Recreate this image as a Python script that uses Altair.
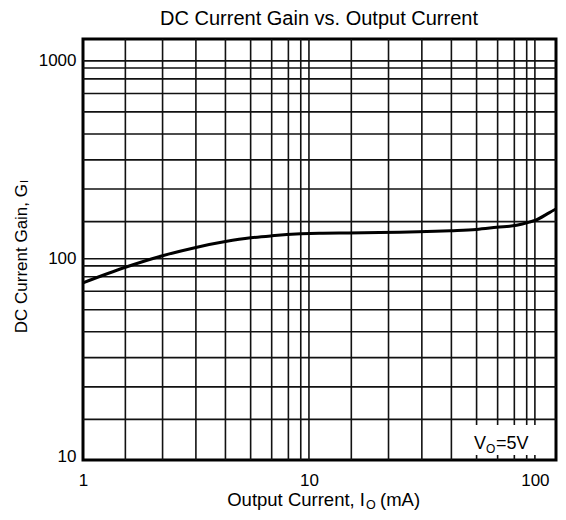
import altair as alt
import pandas as pd

# ---- data ----
output_current = [1, 1.54, 2.25, 3.16, 4.27, 5.52, 6.84, 9.2, 11.1, 15, 20.5, 42.4, 55, 67.7, 83, 94.5, 100, 116, 134]
current_gain = [75.5, 90.5, 103.5, 114, 122, 127.5, 130.5, 133.5, 134.5, 135, 135.5, 138.5, 140.5, 144, 147.5, 153, 156, 171, 188]

x_grid = [1.54, 2.25, 3.16, 4.27, 5.52, 6.84, 8.11, 9.2, 10,
          15.4, 22.5, 31.6, 42.7, 55.2, 68.4, 81.1, 92, 100]
y_grid = [15.4, 22.5, 31.6, 42.7, 55.2, 68.4, 81.1, 92, 100,
          154, 225, 316, 427, 552, 684, 811, 920, 1000]
x_ticks = [1, 10, 100]
y_ticks = [10, 100, 1000]
x_domain = [1, 124]
y_domain = [9.6, 1290]

FONT = "Liberation Sans"
W, H = 473, 421

curve = pd.DataFrame({"io": output_current, "gain": current_gain})
xs = alt.Scale(type="log", domain=x_domain, nice=False)
ys = alt.Scale(type="log", domain=y_domain, nice=False)

xaxis = alt.Axis(values=x_ticks, format="d", ticks=False, grid=False, domain=False,
                 labelPadding=12, title="", labelFlush=False)
yaxis = alt.Axis(values=y_ticks, format="d", ticks=False, grid=False, domain=False,
                 labelPadding=7, title="")

vgrid = alt.Chart(pd.DataFrame({"g": x_grid})).mark_rule(color="#111", strokeWidth=1.6).encode(
    x=alt.X("g:Q", scale=xs, axis=xaxis))
hgrid = alt.Chart(pd.DataFrame({"g": y_grid})).mark_rule(color="#111", strokeWidth=1.6).encode(
    y=alt.Y("g:Q", scale=ys, axis=yaxis))

line = alt.Chart(curve).mark_line(color="black", strokeWidth=3, interpolate="monotone", clip=True).encode(
    x=alt.X("io:Q", scale=xs, axis=xaxis),
    y=alt.Y("gain:Q", scale=ys, axis=yaxis))

def txt(s, x, y, size=17, align="left", baseline="alphabetic", angle=0):
    kw = dict(font=FONT, fontSize=size, align=align, baseline=baseline, color="black")
    if angle:
        kw["angle"] = angle
    return alt.Chart(pd.DataFrame({"t": [s]})).mark_text(**kw).encode(
        text="t:N", x=alt.value(x), y=alt.value(y))

# annotation box for V_O=5V
box = alt.Chart(pd.DataFrame({"a": [0]})).mark_rect(fill="white").encode(
    x=alt.value(387), x2=alt.value(457), y=alt.value(386), y2=alt.value(416))

layers = [
    vgrid, hgrid, line, box,
    txt("V", 391, 410, 18),
    txt("O", 403, 414, 12),
    txt("=5V", 413, 410, 18),
    # chart title
    txt("DC Current Gain vs. Output Current", 236, -20, 20, align="center", baseline="middle"),
    # x title
    txt("Output Current, I", 282, 467, 18.5, align="right"),
    txt("O", 283, 470, 12.5),
    txt("(mA)", 297, 467, 18.5),
    # y title
    txt("DC Current Gain, G", -61, 145, 17, align="right", baseline="middle", angle=270),
    txt("I", -58, 144, 11, align="left", baseline="middle", angle=270),
]

chart = alt.layer(*layers).properties(
    width=W, height=H,
    autosize=alt.AutoSizeParams(type="none"),
    padding={"left": 75, "top": 31, "right": 2, "bottom": 52},
).configure_view(stroke="black", strokeWidth=3).configure_axis(
    labelFont=FONT, labelFontSize=17, labelColor="black"
)

chart.save("out.html", embed_options={"renderer": "svg", "actions": False})
